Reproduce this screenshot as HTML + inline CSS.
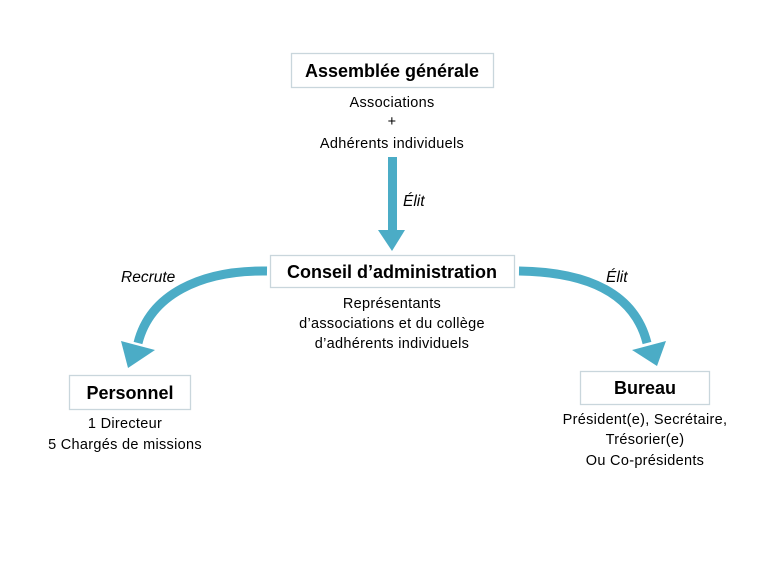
<!DOCTYPE html>
<html><head><meta charset="utf-8"><style>
html,body{margin:0;padding:0;background:#fff;}
svg{display:block;}
text{font-family:"Liberation Sans",sans-serif;fill:#000;}
.b{font-size:18px;font-weight:bold;}
.t{font-size:14.5px;letter-spacing:0.3px;}
</style></head><body>
<svg width="778" height="583" viewBox="0 0 778 583" xmlns="http://www.w3.org/2000/svg">
<rect width="778" height="583" fill="#fff"/>
<rect x="291.5" y="53.5" width="202" height="34" fill="#fff" stroke="#c9d6dc" stroke-width="1.3"/>
<text x="392" y="77" class="b" text-anchor="middle">Assemblée générale</text>
<text x="392" y="107" class="t" text-anchor="middle">Associations</text>
<text x="392" y="126" class="t" text-anchor="middle">+</text>
<text x="392" y="148" class="t" text-anchor="middle">Adhérents individuels</text>

<rect x="388" y="157" width="9" height="74" fill="#4bacc6"/>
<polygon points="378,230 405,230 392,251" fill="#4bacc6"/>
<text x="403" y="206" font-size="15.5" font-style="italic">Élit</text>

<rect x="270.5" y="255.5" width="244" height="32" fill="#fff" stroke="#c9d6dc" stroke-width="1.3"/>
<text x="392" y="278" class="b" text-anchor="middle">Conseil d’administration</text>
<text x="392" y="308" class="t" text-anchor="middle">Représentants</text>
<text x="392" y="328" class="t" text-anchor="middle">d’associations et du collège</text>
<text x="392" y="348" class="t" text-anchor="middle">d’adhérents individuels</text>

<path d="M267,271 C200,270 150,295 138,343" fill="none" stroke="#4bacc6" stroke-width="9"/>
<polygon points="121,341 155,350 128,368" fill="#4bacc6"/>
<text x="121" y="282" font-size="15.5" font-style="italic">Recrute</text>

<path d="M519,271 C590,272 635,295 647,343" fill="none" stroke="#4bacc6" stroke-width="9"/>
<polygon points="632,350 666,341 657,366" fill="#4bacc6"/>
<text x="606" y="282" font-size="15.5" font-style="italic">Élit</text>

<rect x="69.5" y="375.5" width="121" height="34" fill="#fff" stroke="#c9d6dc" stroke-width="1.3"/>
<text x="130" y="399" class="b" text-anchor="middle">Personnel</text>
<text x="125" y="428" class="t" text-anchor="middle">1 Directeur</text>
<text x="125" y="449" class="t" text-anchor="middle">5 Chargés de missions</text>

<rect x="580.5" y="371.5" width="129" height="33" fill="#fff" stroke="#c9d6dc" stroke-width="1.3"/>
<text x="645" y="394" class="b" text-anchor="middle">Bureau</text>
<text x="645" y="424" class="t" text-anchor="middle">Président(e),  Secrétaire,</text>
<text x="645" y="444" class="t" text-anchor="middle">Trésorier(e)</text>
<text x="645" y="465" class="t" text-anchor="middle">Ou Co-présidents</text>
</svg>
</body></html>
